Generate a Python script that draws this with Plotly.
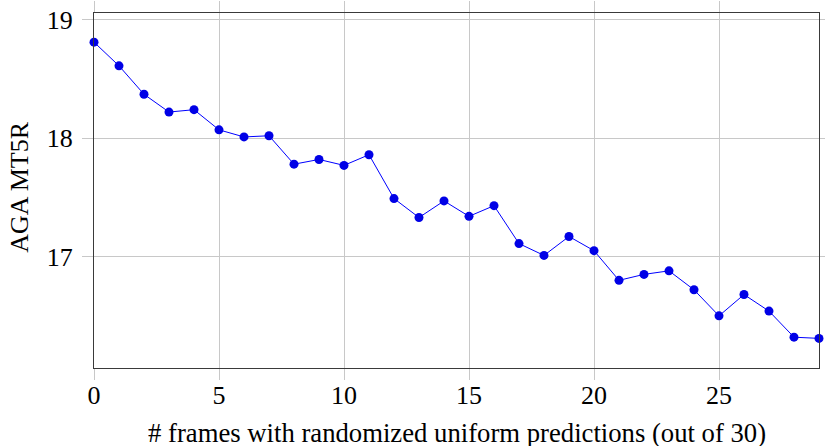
import plotly.graph_objects as go

frames = list(range(30))
aga_mt5r = [18.81, 18.61, 18.37, 18.22, 18.24, 18.07, 18.01, 18.02, 17.78, 17.82,
            17.77, 17.86, 17.49, 17.33, 17.47, 17.34, 17.43, 17.11, 17.01, 17.17,
            17.05, 16.80, 16.85, 16.88, 16.72, 16.50, 16.68, 16.54, 16.32, 16.31]
x_ticks = [0, 5, 10, 15, 20, 25]
y_ticks = [17, 18, 19]
x_title = "# frames with randomized uniform predictions (out of 30)"
y_title = "AGA MT5R"

font_family = "Liberation Serif, Times New Roman, serif"

fig = go.Figure()
fig.add_trace(go.Scatter(
    x=frames, y=aga_mt5r, mode="lines+markers",
    line=dict(color="rgb(0,0,255)", width=1),
    marker=dict(color="rgb(0,0,230)", size=9),
    cliponaxis=False, showlegend=False,
))

axis_common = dict(
    showline=True, linecolor="#3a3a3a", linewidth=1.2, mirror="ticks",
    ticks="outside", ticklen=11, tickcolor="#c8c8c8", tickwidth=1.2,
    showgrid=True, gridcolor="#c8c8c8", gridwidth=1.2,
    zeroline=False, automargin=False, ticklabeloverflow="allow",
    tickfont=dict(family=font_family, size=26, color="#000"),
)

fig.update_layout(
    width=825, height=446,
    margin=dict(l=94, r=6, t=13, b=78),
    paper_bgcolor="white", plot_bgcolor="white",
    font=dict(family=font_family, size=26, color="#000"),
    xaxis=dict(range=[0, 29], tickvals=x_ticks, ticklabelstandoff=-7, **axis_common),
    yaxis=dict(range=[16.06, 19.056], tickvals=y_ticks, ticklabelstandoff=4, **axis_common),
    annotations=[
        dict(text=x_title, xref="paper", yref="paper", x=0.5, y=-0.183,
             xanchor="center", yanchor="middle", showarrow=False,
             font=dict(family=font_family, size=26.7)),
        dict(text=y_title, xref="paper", yref="paper", x=-0.102, y=0.508,
             xanchor="center", yanchor="middle", showarrow=False, textangle=-90,
             font=dict(family=font_family, size=26)),
    ],
)

fig.write_html("out.html", config={"displayModeBar": False},
               post_script="document.body.style.margin='0';")
